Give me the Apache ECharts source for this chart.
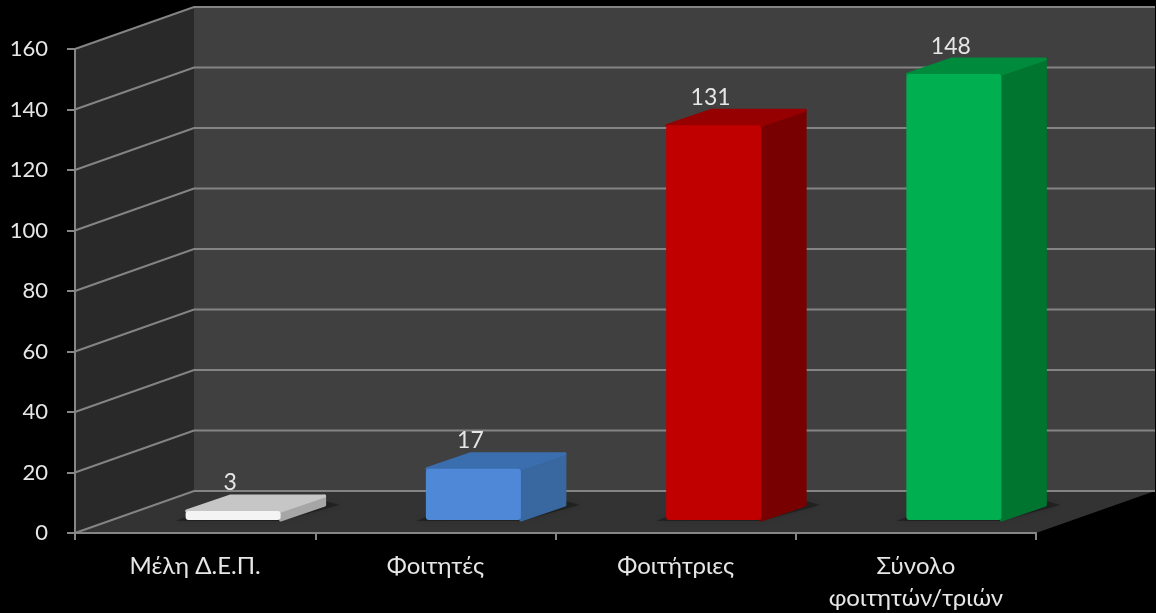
<!DOCTYPE html>
<html>
<head>
<meta charset="utf-8">
<style>html,body{margin:0;padding:0;background:#000}#c{width:1156px;height:613px}</style>
<script src="https://cdn.jsdelivr.net/npm/echarts@6/dist/echarts.min.js"></script>
</head>
<body>
<div id="c"></div>
<script>
const categories = ['Μέλη Δ.Ε.Π.', 'Φοιτητές', 'Φοιτήτριες', 'Σύνολο\nφοιτητών/τριών'];
const values = [3, 17, 131, 148];
const yTicks = [0, 20, 40, 60, 80, 100, 120, 140, 160];

const FONT = 'Lato, "Open Sans", sans-serif';
const TEXT = '#e6e6e6';
const WALL = {dx: 119, dy: -42};
const BAR = {width: 95, shift: 38, lift: 13, dx: 45, dy: -16, scale: 0.996};
const FACES = [
  {front: '#f4f4f4', top: '#c6c6c6', side: '#a6a6a6'},
  {front: '#4f88d6', top: '#3a6eae', side: '#38689f'},
  {front: '#c00000', top: '#960000', side: '#780000'},
  {front: '#00b050', top: '#008a3c', side: '#007530'}
];
const poly = (points, fill, z2, extra) => ({
  type: 'polygon', z2: z2 || 0, shape: {points},
  style: Object.assign({fill}, extra || {})
});

const chart = echarts.init(document.getElementById('c'), null, {renderer: 'canvas'});
chart.setOption({
  animation: false,
  backgroundColor: '#000',
  grid: {left: 75, right: 120, top: 49, bottom: 80, outerBoundsMode: 'none'},
  xAxis: {
    type: 'category', data: categories, z: 6,
    axisLine: {lineStyle: {color: '#868686', width: 2}},
    axisTick: {show: true, length: 7, alignWithLabel: false, lineStyle: {color: '#868686', width: 2}},
    axisLabel: {color: TEXT, fontFamily: FONT, fontSize: 24, margin: 17, lineHeight: 32, interval: 0}
  },
  yAxis: {
    type: 'value', min: 0, max: 160, interval: 20, z: 6,
    axisLine: {show: true, lineStyle: {color: '#868686', width: 2}},
    axisTick: {show: true, length: 8, lineStyle: {color: '#868686', width: 2}},
    axisLabel: {color: TEXT, fontFamily: FONT, fontSize: 22, margin: 27},
    splitLine: {show: false}
  },
  series: [
    {
      type: 'custom', coordinateSystem: 'cartesian2d', z: 1, silent: true,
      data: [0],
      renderItem(params, api) {
        const c = params.coordSys;
        const x0 = c.x, x1 = c.x + c.width, yT = c.y, yB = c.y + c.height;
        const {dx, dy} = WALL;
        return {type: 'group', children: [
          poly([[x0 + dx, yT + dy], [x1 + dx, yT + dy], [x1 + dx, yB + dy], [x0 + dx, yB + dy]], '#404040'),
          poly([[x0, yT], [x0 + dx, yT + dy], [x0 + dx, yB + dy], [x0, yB]], '#292929'),
          poly([[x0, yB], [x0 + dx, yB + dy], [x1 + dx, yB + dy], [x1, yB]], '#333333')
        ]};
      }
    },
    {
      type: 'custom', coordinateSystem: 'cartesian2d', z: 2, silent: true,
      data: yTicks.map(v => [0, v]),
      encode: {y: 1},
      renderItem(params, api) {
        const c = params.coordSys;
        const y = api.coord([0, api.value(1)])[1];
        const {dx, dy} = WALL;
        return {
          type: 'polyline',
          shape: {points: [[c.x, y], [c.x + dx, y + dy], [c.x + c.width + dx, y + dy]]},
          style: {fill: 'none', stroke: '#848484', lineWidth: 2}
        };
      }
    },
    {
      type: 'custom', coordinateSystem: 'cartesian2d', z: 3,
      data: values.map((v, i) => [i, v]),
      encode: {x: 0, y: 1},
      renderItem(params, api) {
        const i = api.value(0), v = api.value(1);
        const {width, shift, lift, dx, dy, scale} = BAR;
        const top = api.coord([i, v]), base = api.coord([i, 0]);
        const l = base[0] + shift - width / 2, r = l + width;
        const yB = base[1] - lift, yT = yB - (base[1] - top[1]) * scale;
        const f = FACES[i];
        const rounded = {lineJoin: 'round', lineWidth: 3};
        return {type: 'group', children: [
          poly([[l - 10, yB + 1], [r, yB + 1], [r + dx + 14, yB + dy + 1], [r + dx, yB + dy - 3], [l, yB - 3]], 'rgba(0,0,0,0.3)', 0,
            {shadowBlur: 6, shadowColor: 'rgba(0,0,0,0.4)'}),
          poly([[r, yB], [r + dx - 1, yB + dy + 1], [r + dx - 1, yT + dy + 1], [r, yT]], f.side, 1,
            Object.assign({stroke: f.side}, rounded)),
          poly([[l + 1, yT], [l + dx, yT + dy + 1], [r + dx - 1, yT + dy + 1], [r, yT]], f.top, 2,
            Object.assign({stroke: f.top}, rounded)),
          {type: 'rect', z2: 3, shape: {x: l, y: yT, width, height: yB - yT, r: 3}, style: {fill: f.front}},
          {type: 'text', z2: 4, style: {
            text: String(v), x: l + width / 2 - 3, y: yT - 28,
            align: 'center', verticalAlign: 'middle',
            fill: TEXT, font: '23px ' + FONT
          }}
        ]};
      }
    }
  ]
});
</script>
</body>
</html>
